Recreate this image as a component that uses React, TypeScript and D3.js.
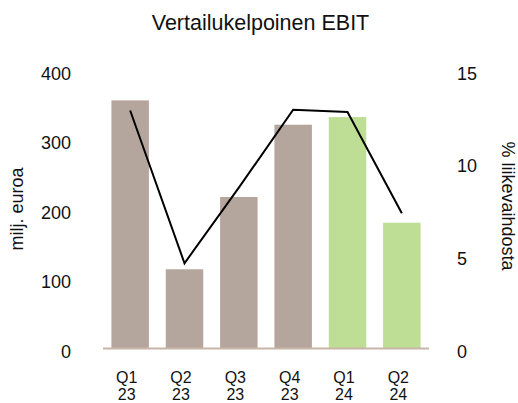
import React from "react";
import * as d3 from "d3";

const categories = ["Q1 23", "Q2 23", "Q3 23", "Q4 23", "Q1 24", "Q2 24"];
const ebitValues = [357, 114, 218, 322, 333, 181];
const marginPct = [12.84, 4.6, 8.68, 12.88, 12.76, 7.3];
const barColors = ["#b5a69d", "#b5a69d", "#b5a69d", "#b5a69d", "#bedd95", "#bedd95"];
const leftTicks = [0, 100, 200, 300, 400];
const rightTicks = [0, 5, 10, 15];

const W = 518;
const H = 403;
const FONT = "'Liberation Sans', Arial, sans-serif";

export default function App() {
  const x = d3.scaleBand<string>().domain(categories).range([103, 429]).paddingInner(0.31).paddingOuter(0.155);
  const yL = d3.scaleLinear().domain([0, 400]).range([348.5, 70.5]);
  const yR = d3.scaleLinear().domain([0, 15]).range([348.5, 70.5]);
  const line = d3
    .line<number>()
    .x((_, i) => (x(categories[i]) as number) + x.bandwidth() / 2)
    .y((d) => yR(d));

  return (
    <svg
      width={W}
      height={H}
      style={{ position: "absolute", left: 0, top: 0, background: "#fff" }}
      fontFamily={FONT}
    >
      <text x={260.5} y={29.5} textAnchor="middle" fontSize={21.5} fill="#111">
        Vertailukelpoinen EBIT
      </text>
      {categories.map((c, i) => (
        <rect
          key={c}
          x={x(c)}
          y={yL(ebitValues[i])}
          width={x.bandwidth()}
          height={yL(0) - yL(ebitValues[i])}
          fill={barColors[i]}
        />
      ))}
      <line x1={103} x2={429} y1={yL(0)} y2={yL(0)} stroke="#c9b5a8" strokeWidth={2} />
      <path d={line(marginPct) || ""} fill="none" stroke="#000" strokeWidth={2} strokeLinejoin="miter" />
      {leftTicks.map((t) => (
        <text key={t} x={71} y={yL(t) + 9} textAnchor="end" fontSize={18} fill="#111">
          {t}
        </text>
      ))}
      {rightTicks.map((t) => (
        <text key={t} x={457} y={yR(t) + 9} textAnchor="start" fontSize={18} fill="#111">
          {t}
        </text>
      ))}
      {categories.map((c) => {
        const [q, yy] = c.split(" ");
        const cx = (x(c) as number) + x.bandwidth() / 2 - 3.5;
        return (
          <text key={c} textAnchor="middle" fontSize={16} fill="#111">
            <tspan x={cx} y={383}>{q}</tspan>
            <tspan x={cx} y={399.5}>{yy}</tspan>
          </text>
        );
      })}
      <text
        transform={`translate(23,209) rotate(-90)`}
        textAnchor="middle"
        fontSize={18}
        fill="#111"
      >
        milj. euroa
      </text>
      <text
        transform={`translate(501.5,206) rotate(90)`}
        textAnchor="middle"
        fontSize={18}
        fill="#111"
      >
        % liikevaihdosta
      </text>
    </svg>
  );
}
